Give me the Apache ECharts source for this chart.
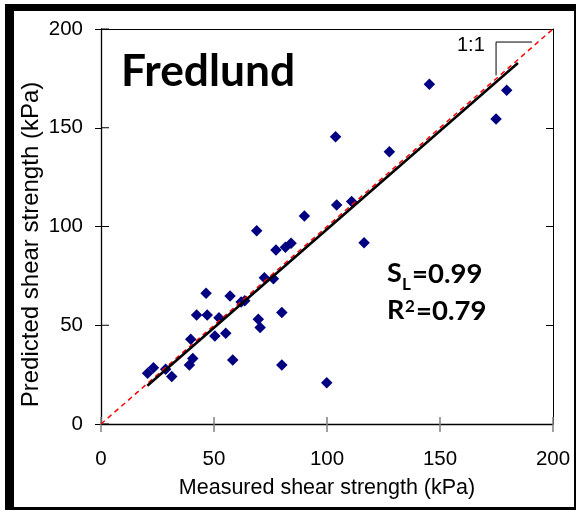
<!DOCTYPE html>
<html>
<head>
<meta charset="utf-8">
<script src="https://cdn.jsdelivr.net/npm/echarts@6/dist/echarts.min.js"></script>
<style>
html,body{margin:0;padding:0;background:#fff;}
#chart{width:576px;height:510px;}
</style>
</head>
<body>
<div id="chart"></div>
<script>
// ---- data ----
var measured = [20.6, 23.2, 28.6, 31.3, 39.1, 40.6, 39.7, 42.3, 46.5, 47.0, 50.4, 52.2, 55.2, 57.1, 58.3, 62.0, 63.6, 68.9, 69.6, 70.4, 72.3, 76.3, 77.4, 80.0, 80.0, 81.6, 84.1, 90.0, 99.9, 103.8, 104.3, 110.9, 116.4, 127.6, 145.3, 174.8, 179.5];
var predicted = [25.7, 28.5, 27.7, 24.0, 29.9, 33.2, 42.9, 55.2, 66.2, 55.2, 44.6, 53.8, 45.9, 64.8, 32.4, 61.8, 62.4, 97.9, 53.0, 48.8, 74.1, 73.6, 88.1, 56.4, 29.9, 89.5, 91.5, 105.3, 20.9, 145.5, 110.9, 112.6, 91.8, 137.9, 172.0, 154.4, 169.0];
var oneToOneX = [0, 200];
var oneToOneY = [0, 200];
var fitX = [20.5, 184.5];
var fitY = [19.4, 182.8];
var bracketX = [174.8, 174.8, 190.7];
var bracketY = [176.5, 193.4, 193.4];
var tickValues = [0, 50, 100, 150, 200];

function pairs(xs, ys) { return xs.map(function (x, i) { return [x, ys[i]]; }); }

var chart = echarts.init(document.getElementById('chart'), null, {renderer: 'canvas'});
var AX_FONT = 'Liberation Sans, Arial, sans-serif';
var B_FONT = 'Lato, Open Sans, sans-serif';

var option = {
  backgroundColor: '#ffffff',
  animation: false,
  grid: {left: 101, top: 29, right: 23, bottom: 86, containLabel: false},
  xAxis: [{
    type: 'value', min: 0, max: 200, interval: 50, position: 'bottom',
    axisLine: {show: true, onZero: false, lineStyle: {color: '#000', width: 1.3}},
    axisTick: {show: true, inside: false, length: 8, lineStyle: {color: '#808080', width: 1.5}},
    axisLabel: {color: '#000', fontSize: 20.5, fontFamily: AX_FONT, margin: 25},
    splitLine: {show: false},
    name: 'Measured shear strength (kPa)', nameLocation: 'middle', nameGap: 53, nameMoveOverlap: false,
    nameTextStyle: {color: '#000', fontSize: 21.5, fontFamily: AX_FONT}
  }, {
    type: 'value', min: 0, max: 200, interval: 50, position: 'top',
    axisLine: {show: true, onZero: false, lineStyle: {color: '#000', width: 1}},
    axisTick: {show: false}, axisLabel: {show: false}, splitLine: {show: false}
  }],
  yAxis: [{
    type: 'value', min: 0, max: 200, interval: 50, position: 'left',
    axisLine: {show: true, onZero: false, lineStyle: {color: '#000', width: 1.3}},
    axisTick: {show: true, inside: false, length: 6, lineStyle: {color: '#000', width: 1}},
    axisLabel: {color: '#000', fontSize: 20.5, fontFamily: AX_FONT, margin: 18},
    splitLine: {show: false},
    name: 'Predicted shear strength (kPa)', nameLocation: 'middle', nameGap: 58, nameRotate: 90,
    nameMoveOverlap: false,
    nameTextStyle: {color: '#000', fontSize: 24, fontFamily: AX_FONT, padding: [0, 36, 0, 0]}
  }, {
    type: 'value', min: 0, max: 200, interval: 50, position: 'right',
    axisLine: {show: true, onZero: false, lineStyle: {color: '#000', width: 1}},
    axisTick: {show: true, inside: true, length: 7, lineStyle: {color: '#000', width: 1}},
    axisLabel: {show: false}, splitLine: {show: false}
  }],
  series: [
    {
      type: 'custom', xAxisIndex: 0, yAxisIndex: 0, silent: true, clip: false, z: 3,
      data: tickValues.map(function (v) { return [v, 0]; }),
      renderItem: function (params, api) {
        var p = api.coord([api.value(0), api.value(1)]);
        return {type: 'line', shape: {x1: p[0], y1: p[1], x2: p[0], y2: p[1] - 7},
          style: {stroke: '#808080', lineWidth: 1.5}};
      }
    },
    {
      type: 'custom', xAxisIndex: 0, yAxisIndex: 0, silent: true, clip: false, z: 3,
      data: tickValues.map(function (v) { return [0, v]; }),
      renderItem: function (params, api) {
        var p = api.coord([api.value(0), api.value(1)]);
        return {type: 'line', shape: {x1: p[0], y1: p[1], x2: p[0] + 8, y2: p[1]},
          style: {stroke: '#000', lineWidth: 1}};
      }
    },
    {
      type: 'scatter', xAxisIndex: 0, yAxisIndex: 0, z: 4,
      symbol: 'diamond', symbolSize: 11.5,
      itemStyle: {color: '#000080', opacity: 1},
      data: pairs(measured, predicted)
    },
    {
      type: 'line', xAxisIndex: 0, yAxisIndex: 0, z: 5, symbol: 'none',
      lineStyle: {color: '#ff0000', width: 1.5, type: [5, 4]},
      data: pairs(oneToOneX, oneToOneY)
    },
    {
      type: 'line', xAxisIndex: 0, yAxisIndex: 0, z: 6, symbol: 'none',
      lineStyle: {color: '#000', width: 2.6},
      data: pairs(fitX, fitY)
    },
    {
      type: 'line', xAxisIndex: 0, yAxisIndex: 0, z: 6, symbol: 'none',
      lineStyle: {color: '#000', width: 1},
      data: pairs(bracketX, bracketY)
    }
  ],
  graphic: [
    {type: 'rect', shape: {x: 5, y: 4, width: 571, height: 7}, style: {fill: '#000'}, silent: true},
    {type: 'rect', shape: {x: 5, y: 4, width: 9, height: 506}, style: {fill: '#000'}, silent: true},
    {type: 'rect', shape: {x: 574, y: 4, width: 2, height: 506}, style: {fill: '#000'}, silent: true},
    {type: 'rect', shape: {x: 5, y: 507, width: 571, height: 3}, style: {fill: '#000'}, silent: true},
    {type: 'text', left: 121, top: 50, silent: true,
      style: {text: 'Fredlund', fill: '#000', font: 'bold 44.3px ' + B_FONT}},
    {type: 'text', left: 457, top: 35, silent: true,
      style: {text: '1:1', fill: '#000', font: '20px ' + AX_FONT}},
    {type: 'text', left: 387, top: 260, silent: true,
      style: {text: 'S', fill: '#000', font: 'bold 27px ' + B_FONT}},
    {type: 'text', left: 402, top: 276, silent: true,
      style: {text: 'L', fill: '#000', font: 'bold 17px ' + B_FONT}},
    {type: 'text', left: 412, top: 260, silent: true,
      style: {text: '=0.99', fill: '#000', font: 'bold 27.5px ' + B_FONT}},
    {type: 'text', left: 387, top: 297, silent: true,
      style: {text: 'R', fill: '#000', font: 'bold 27px ' + B_FONT}},
    {type: 'text', left: 405, top: 298, silent: true,
      style: {text: '2', fill: '#000', font: 'bold 17px ' + B_FONT}},
    {type: 'text', left: 416, top: 297, silent: true,
      style: {text: '=0.79', fill: '#000', font: 'bold 27.5px ' + B_FONT}}
  ]
};
chart.setOption(option);
</script>
</body>
</html>
